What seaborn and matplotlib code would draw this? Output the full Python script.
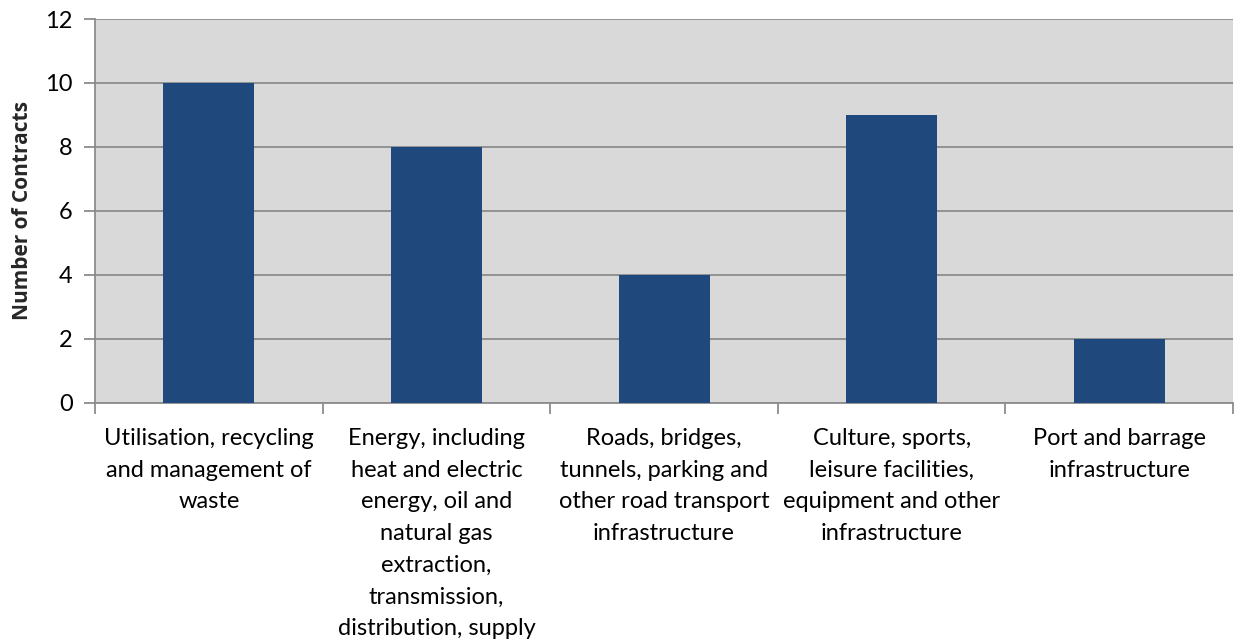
import matplotlib
matplotlib.use('Agg')
import matplotlib.pyplot as plt
import seaborn as sns
from matplotlib.ticker import FixedLocator

categories = [
    'Utilisation, recycling\nand management of\nwaste',
    'Energy, including\nheat and electric\nenergy, oil and\nnatural gas\nextraction,\ntransmission,\ndistribution, supply',
    'Roads, bridges,\ntunnels, parking and\nother road transport\ninfrastructure',
    'Culture, sports,\nleisure facilities,\nequipment and other\ninfrastructure',
    'Port and barrage\ninfrastructure',
]
contracts = [10, 8, 4, 9, 2]
y_ticks = [0, 2, 4, 6, 8, 10, 12]

sns.set_theme(style='white')
plt.rcParams['font.family'] = ['Lato', 'DejaVu Sans']

fig = plt.figure(figsize=(12.39, 6.42), dpi=100)
ax = fig.add_axes([0.0767, 0.3723, 0.9185, 0.5981])
ax.set_facecolor('#d9d9d9')

sns.barplot(x=list(range(len(categories))), y=contracts, color='#1f497d', saturation=1,
            width=0.4, linewidth=0, ax=ax, zorder=3)

ax.set_xlim(-0.5, len(categories) - 0.5)
ax.set_ylim(0, 12)
ax.set_yticks(y_ticks)
ax.set_yticklabels([str(v) for v in y_ticks], fontsize=17, color='black')
ax.yaxis.grid(True, color='#8c8c8c', linewidth=1.3, zorder=1)
ax.set_axisbelow(True)

ax.set_xticks(range(len(categories)))
ax.set_xticklabels(categories, fontsize=17, color='black', linespacing=1.63)
ax.xaxis.set_minor_locator(FixedLocator([i - 0.5 for i in range(len(categories) + 1)]))
ax.tick_params(axis='x', which='major', length=0, pad=18)
ax.tick_params(axis='x', which='minor', length=8, width=1.3, color='#8c8c8c', bottom=True, direction='out')
ax.tick_params(axis='y', length=8, width=1.3, color='#8c8c8c', left=True, direction='out', pad=8)

for side in ['top', 'right']:
    ax.spines[side].set_visible(False)
for side in ['left', 'bottom']:
    ax.spines[side].set_color('#8c8c8c')
    ax.spines[side].set_linewidth(1.3)

ax.set_ylabel('Number of Contracts', fontsize=15, fontweight='bold', labelpad=9,
              family=['Open Sans', 'DejaVu Sans'])
ax.set_xlabel('')

fig.savefig('out.png', dpi=100)
plt.close(fig)
